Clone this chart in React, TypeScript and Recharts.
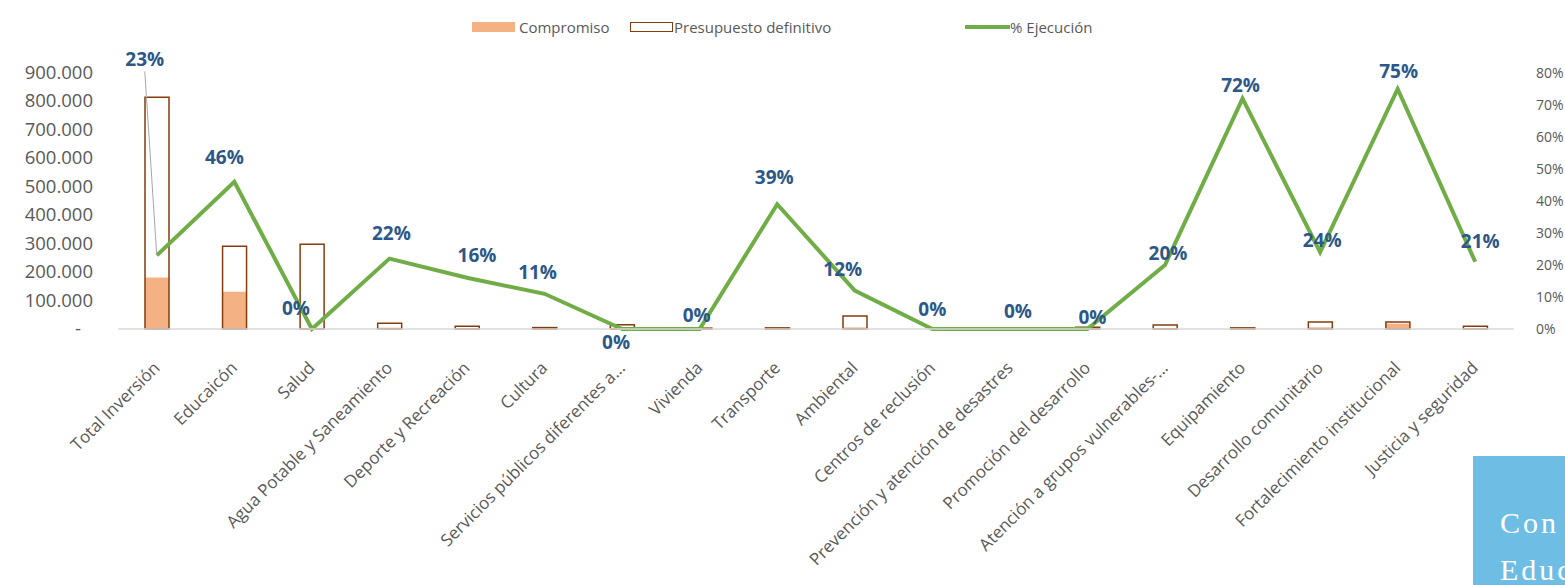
import React from 'react';
import { ComposedChart, Bar, Line, XAxis, YAxis, Legend, LabelList } from 'recharts';

const categories = [
  'Total Inversión',
  'Educaicón',
  'Salud',
  'Agua Potable y Saneamiento',
  'Deporte y Recreación',
  'Cultura',
  'Servicios públicos diferentes a...',
  'Vivienda',
  'Transporte',
  'Ambiental',
  'Centros de reclusión',
  'Prevención y atención de desastres',
  'Promoción del desarrollo',
  'Atención a grupos vulnerables-...',
  'Equipamiento',
  'Desarrollo comunitario',
  'Fortalecimiento institucional',
  'Justicia y seguridad',
];

const compromiso = [181000, 131000, 0, 4400, 1600, 550, 0, 0, 1600, 5500, 0, 0, 0, 2800, 2900, 6000, 18800, 2100];
const presupuesto = [815000, 291000, 298000, 20000, 10000, 5000, 15000, 3000, 4000, 46000, 0, 0, 6000, 14000, 4000, 25000, 25000, 10000];
const ejecucion = [23, 46, 0, 22, 16, 11, 0, 0, 39, 12, 0, 0, 0, 20, 72, 24, 75, 21];

const leftTicks = [0, 100000, 200000, 300000, 400000, 500000, 600000, 700000, 800000, 900000];
const rightTicks = [0, 10, 20, 30, 40, 50, 60, 70, 80];

// label placement tweaks (dx, dy from the point), mimicking Excel's layout
const labelNudge: [number, number][] = [
  [-12, -196], [-10, -25], [-16, -21], [2, -26], [10, -23], [-7, -22],
  [-6, 13], [-3, -14], [-3, -27], [-12, -22], [0, -20], [8, -18],
  [5, -12], [3, -12], [-2, -14], [2, -12], [1, -18], [5, -21],
];

const data = categories.map((name, i) => ({
  name,
  compromiso: compromiso[i],
  presupuesto: presupuesto[i],
  ejecucion: ejecucion[i],
}));

const FONT = '"Open Sans", sans-serif';
const GREY = '#595959';
const LABEL_BLUE = '#2B5888';

const LeftTick = ({ x, y, payload }: any) => {
  const v = payload.value;
  const txt = v === 0 ? '-' : v.toLocaleString('de-DE');
  return (
    <text x={v === 0 ? x - 12 : x} y={y} dy={6} textAnchor="end" fill={GREY} fontSize={18.5} fontFamily={FONT}>
      {txt}
    </text>
  );
};

const RightTick = ({ x, y, payload }: any) => (
  <text x={x} y={y} dy={5} textAnchor="start" fill={GREY} fontSize={14} fontFamily={FONT}>
    {payload.value}%
  </text>
);

const CategoryTick = ({ x, y, payload }: any) => (
  <g transform={`translate(${x + 4},${y + 32})`}>
    <text textAnchor="end" transform="rotate(-45)" fill={GREY} fontSize={17} fontFamily={FONT}>
      {payload.value}
    </text>
  </g>
);

const PctLabel = (props: any) => {
  const { x, y, value, index } = props;
  const [dx, dy] = labelNudge[index] || [0, -16];
  const lx = x + dx;
  const ly = y + dy;
  return (
    <g>
      {index === 0 && (
        <line x1={lx} y1={ly + 12} x2={x} y2={y} stroke="#A6A6A6" strokeWidth={1} />
      )}
      <text
        x={lx}
        y={ly}
        textAnchor="middle"
        dominantBaseline="central"
        fill={LABEL_BLUE}
        fontSize={19}
        fontWeight={700}
        fontFamily={FONT}
      >
        {value}%
      </text>
    </g>
  );
};

const LegendBox = () => (
  <svg width={1565} height={26} style={{ display: 'block' }}>
    <rect x={472} y={8} width={43} height={10} fill="#F4B183" />
    <text x={519} y={13} dominantBaseline="central" fontSize={15} fill={GREY} fontFamily={FONT}>Compromiso</text>
    <rect x={630.5} y={8.5} width={42} height={9} fill="none" stroke="#843C0C" strokeWidth={1} />
    <text x={674} y={13} dominantBaseline="central" fontSize={15} fill={GREY} fontFamily={FONT}>Presupuesto definitivo</text>
    <line x1={965} y1={13} x2={1010} y2={13} stroke="#70AD47" strokeWidth={4} />
    <text x={1010} y={13} dominantBaseline="central" fontSize={15} fill={GREY} fontFamily={FONT}>% Ejecución</text>
  </svg>
);

export default function App() {
  return (
    <div style={{ position: 'absolute', left: 0, top: 0, width: 1565, height: 585, overflow: 'hidden', background: '#fff' }}>
      <ComposedChart
        width={1565}
        height={585}
        data={data}
        barGap={-24}
        margin={{ top: 73, right: 0, bottom: 0, left: 0 }}
      >
        <XAxis
          dataKey="name"
          interval={0}
          height={256}
          tick={<CategoryTick />}
          tickLine={false}
          axisLine={{ stroke: '#D9D9D9', strokeWidth: 1.5 }}
        />
        <YAxis
          yAxisId="left"
          width={118}
          domain={[0, 900000]}
          ticks={leftTicks}
          tick={<LeftTick />}
          tickMargin={19}
          tickLine={false}
          axisLine={false}
        />
        <YAxis
          yAxisId="right"
          orientation="right"
          width={51}
          domain={[0, 80]}
          ticks={rightTicks}
          tick={<RightTick />}
          tickMargin={16}
          tickLine={false}
          axisLine={false}
        />
        <Legend layout="vertical" align="center" verticalAlign="middle" wrapperStyle={{ top: 14, left: 0, width: 1565, height: 26 }} content={<LegendBox />} />
        <Bar yAxisId="left" dataKey="compromiso" name="Compromiso" barSize={24} fill="#F4B183" isAnimationActive={false} />
        <Bar yAxisId="left" dataKey="presupuesto" name="Presupuesto definitivo" barSize={24} fill="none" stroke="#843C0C" strokeWidth={1.5} isAnimationActive={false} />
        <Line
          yAxisId="right"
          type="linear"
          dataKey="ejecucion"
          name="% Ejecución"
          stroke="#70AD47"
          strokeWidth={4}
          dot={false}
          activeDot={false}
          isAnimationActive={false}
        >
          <LabelList dataKey="ejecucion" content={<PctLabel />} />
        </Line>
      </ComposedChart>
      <div
        style={{
          position: 'absolute',
          left: 1473,
          top: 456,
          width: 120,
          height: 140,
          background: '#6EBDE4',
          color: '#fff',
          fontFamily: '"Liberation Serif", serif',
          fontSize: 30,
          letterSpacing: 3,
          lineHeight: '47px',
          paddingLeft: 27,
          paddingTop: 43,
          boxSizing: 'border-box',
          whiteSpace: 'nowrap',
        }}
      >
        <div>Con</div>
        <div>Educ</div>
      </div>
    </div>
  );
}
